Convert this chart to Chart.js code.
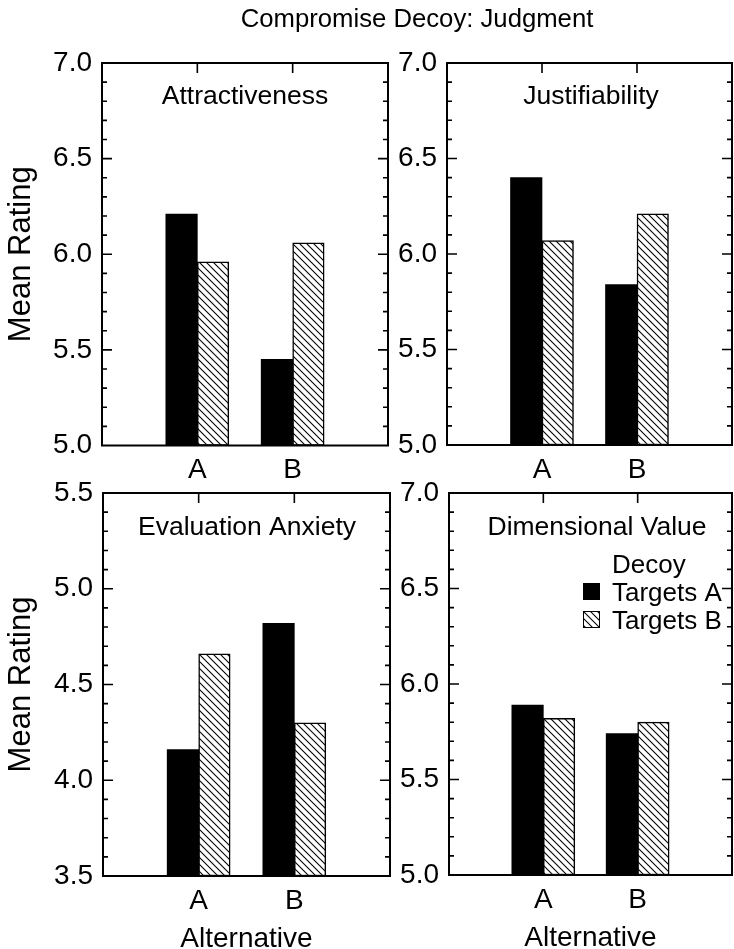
<!DOCTYPE html>
<html>
<head>
<meta charset="utf-8">
<script src="https://cdn.jsdelivr.net/npm/chart.js@4/dist/chart.umd.min.js"></script>
<style>
html, body { margin: 0; padding: 0; background: #fff; overflow: hidden; width: 734px; height: 949px; }
#wrap { position: relative; width: 734px; height: 949px; overflow: hidden; }
canvas { position: absolute; left: 0; top: 0; }
#mainTitle { position: absolute; top: 6px; left: 417px; transform: translateX(-50%); white-space: nowrap;
  font-family: 'Liberation Sans', Arial, Helvetica, sans-serif; font-size: 25.7px; line-height: 25px; color: #000; }
</style>
</head>
<body>
<div id="wrap">
  <canvas id="c1" width="740" height="960"></canvas>
  <canvas id="c2" width="740" height="960"></canvas>
  <canvas id="c3" width="740" height="960"></canvas>
  <canvas id="c4" width="740" height="960"></canvas>
  <div id="mainTitle"></div>
</div>
<script>
// ---------------- data ----------------
const mainTitle = 'Compromise Decoy: Judgment';
const categories = ['A', 'B'];
const seriesLabels = ['Targets A', 'Targets B'];
const legendTitle = 'Decoy';
const xAxisTitle = 'Alternative';
const yAxisTitle = 'Mean Rating';
const panelTitles = ['Attractiveness', 'Justifiability', 'Evaluation Anxiety', 'Dimensional Value'];

const attractivenessTargetsA = [6.21, 5.45];
const attractivenessTargetsB = [5.96, 6.06];
const justifiabilityTargetsA = [6.40, 5.84];
const justifiabilityTargetsB = [6.07, 6.21];
const anxietyTargetsA = [4.16, 4.82];
const anxietyTargetsB = [4.66, 4.30];
const dimensionalTargetsA = [5.89, 5.74];
const dimensionalTargetsB = [5.82, 5.80];

const ticksHigh = ['5.0', '5.5', '6.0', '6.5', '7.0'];
const ticksLow = ['3.5', '4.0', '4.5', '5.0', '5.5'];
// --------------------------------------

document.getElementById('mainTitle').textContent = mainTitle;

const FONT = "'Liberation Sans', Arial, Helvetica, sans-serif";
const CW = 740, CH = 960;

// x labels: blank at both ends so A and B sit at 1/3 and 2/3 of the panel
const xLabels = [''].concat(categories, ['']);
const pad = arr => [null].concat(arr, [null]);

function makeHatch(ctx) {
  const c = document.createElement('canvas');
  c.width = 7; c.height = 7;
  const g = c.getContext('2d');
  g.fillStyle = '#fff'; g.fillRect(0, 0, 7, 7);
  g.strokeStyle = '#000'; g.lineWidth = 1.1;
  for (const k of [-7, 0, 7]) {
    g.beginPath(); g.moveTo(k - 1, -1); g.lineTo(k + 8, 8); g.stroke();
  }
  return ctx.createPattern(c, 'repeat');
}

const framePlugin = {
  id: 'frame',
  afterDatasetsDraw(chart, args, opts) {
    const { ctx, chartArea: a, scales: { x, y } } = chart;
    ctx.save();
    ctx.strokeStyle = '#000';
    ctx.lineWidth = 1.6;
    const n = Math.round((y.max - y.min) * 10);
    ctx.beginPath();
    for (let i = 1; i < n; i++) {
      const py = y.getPixelForValue(y.min + i / 10);
      const len = (i % 5 === 0) ? 10 : 5;
      ctx.moveTo(a.left, py); ctx.lineTo(a.left + len, py);
      ctx.moveTo(a.right, py); ctx.lineTo(a.right - len, py);
    }
    for (let i = 1; i <= categories.length; i++) {
      const px = x.getPixelForValue(i);
      ctx.moveTo(px, a.top); ctx.lineTo(px, a.top + 10);
    }
    ctx.stroke();
    ctx.lineWidth = 2;
    ctx.strokeRect(a.left, a.top, a.right - a.left, a.bottom - a.top);
    // panel title
    ctx.fillStyle = '#000';
    ctx.font = '26.5px ' + FONT;
    ctx.textAlign = 'center';
    ctx.textBaseline = 'alphabetic';
    ctx.fillText(opts.text, opts.tx, opts.ty);
    // legend
    if (opts.legend) {
      const L = opts.legend;
      ctx.font = '26px ' + FONT;
      ctx.textAlign = 'left';
      ctx.fillText(legendTitle, L.x + 29, L.y);
      chart.data.datasets.forEach((ds, i) => {
        const by = L.y + 28 * (i + 1);
        ctx.fillStyle = ds.backgroundColor;
        ctx.fillRect(L.x, by - 18, 17, 17);
        if (ds.borderWidth) {
          ctx.lineWidth = 1;
          ctx.strokeStyle = '#000';
          ctx.strokeRect(L.x + 0.5, by - 17.5, 16, 16);
        }
        ctx.fillStyle = '#000';
        ctx.fillText(ds.label, L.x + 29, by);
      });
    }
    ctx.restore();
  }
};

const panels = [
  { id: 'c1', title: panelTitles[0], a: attractivenessTargetsA, b: attractivenessTargetsB, ticks: ticksHigh,
    area: { left: 102, right: 388, top: 63, bottom: 445.5 }, tx: 245, ty: 104, xTitle: false, yTitle: true },
  { id: 'c2', title: panelTitles[1], a: justifiabilityTargetsA, b: justifiabilityTargetsB, ticks: ticksHigh,
    area: { left: 447, right: 733, top: 63, bottom: 445 }, tx: 591, ty: 104, xTitle: false, yTitle: false },
  { id: 'c3', title: panelTitles[2], a: anxietyTargetsA, b: anxietyTargetsB, ticks: ticksLow,
    area: { left: 103, right: 390, top: 493, bottom: 876 }, tx: 247, ty: 535, xTitle: true, yTitle: true },
  { id: 'c4', title: panelTitles[3], a: dimensionalTargetsA, b: dimensionalTargetsB, ticks: ticksHigh,
    area: { left: 449, right: 735, top: 493, bottom: 875 }, tx: 597, ty: 535, xTitle: true, yTitle: false,
    legend: { x: 583, y: 573 } }
];

panels.forEach(p => {
  const canvas = document.getElementById(p.id);
  const ctx = canvas.getContext('2d');
  const yMin = parseFloat(p.ticks[0]);
  const yMax = parseFloat(p.ticks[p.ticks.length - 1]);
  const XH = p.xTitle ? 77 : 60;
  const hatch = makeHatch(ctx);
  new Chart(ctx, {
    type: 'bar',
    data: {
      labels: xLabels,
      datasets: [
        { label: seriesLabels[0], data: pad(p.a), backgroundColor: '#000', borderWidth: 0, base: yMin },
        { label: seriesLabels[1], data: pad(p.b), backgroundColor: hatch, borderColor: '#000', borderWidth: 1.5,
          borderSkipped: false, base: yMin }
      ]
    },
    options: {
      responsive: false,
      animation: false,
      events: [],
      barThickness: 31.5,
      layout: { padding: { left: 0, top: p.area.top, right: CW - p.area.right, bottom: CH - p.area.bottom - XH } },
      plugins: {
        legend: { display: false },
        tooltip: { enabled: false },
        title: { display: false },
        frame: { text: p.title, tx: p.tx, ty: p.ty, legend: p.legend }
      },
      scales: {
        x: {
          type: 'category',
          offset: false,
          grid: { display: false, drawTicks: false },
          border: { display: false },
          ticks: { autoSkip: false, maxRotation: 0, minRotation: 0, color: '#000', padding: 8,
                   font: { family: FONT, size: 28 } },
          title: { display: p.xTitle, text: xAxisTitle, color: '#000', padding: { top: 0, bottom: 0 },
                   font: { family: FONT, size: 28, lineHeight: 1 } },
          afterFit: s => { s.height = XH; }
        },
        y: {
          min: yMin, max: yMax,
          grid: { display: false, drawTicks: false },
          border: { display: false },
          afterBuildTicks: s => { s.ticks = p.ticks.map(t => ({ value: parseFloat(t) })); },
          ticks: { color: '#000', padding: 10, font: { family: FONT, size: 28 },
                   callback: (v, i) => p.ticks[i] },
          title: { display: p.yTitle, text: yAxisTitle, color: '#000', padding: { top: 3, bottom: 0 },
                   font: { family: FONT, size: 31, lineHeight: 1.2 } },
          afterFit: s => { s.width = p.area.left; }
        }
      }
    },
    plugins: [framePlugin]
  });
});
</script>
</body>
</html>
